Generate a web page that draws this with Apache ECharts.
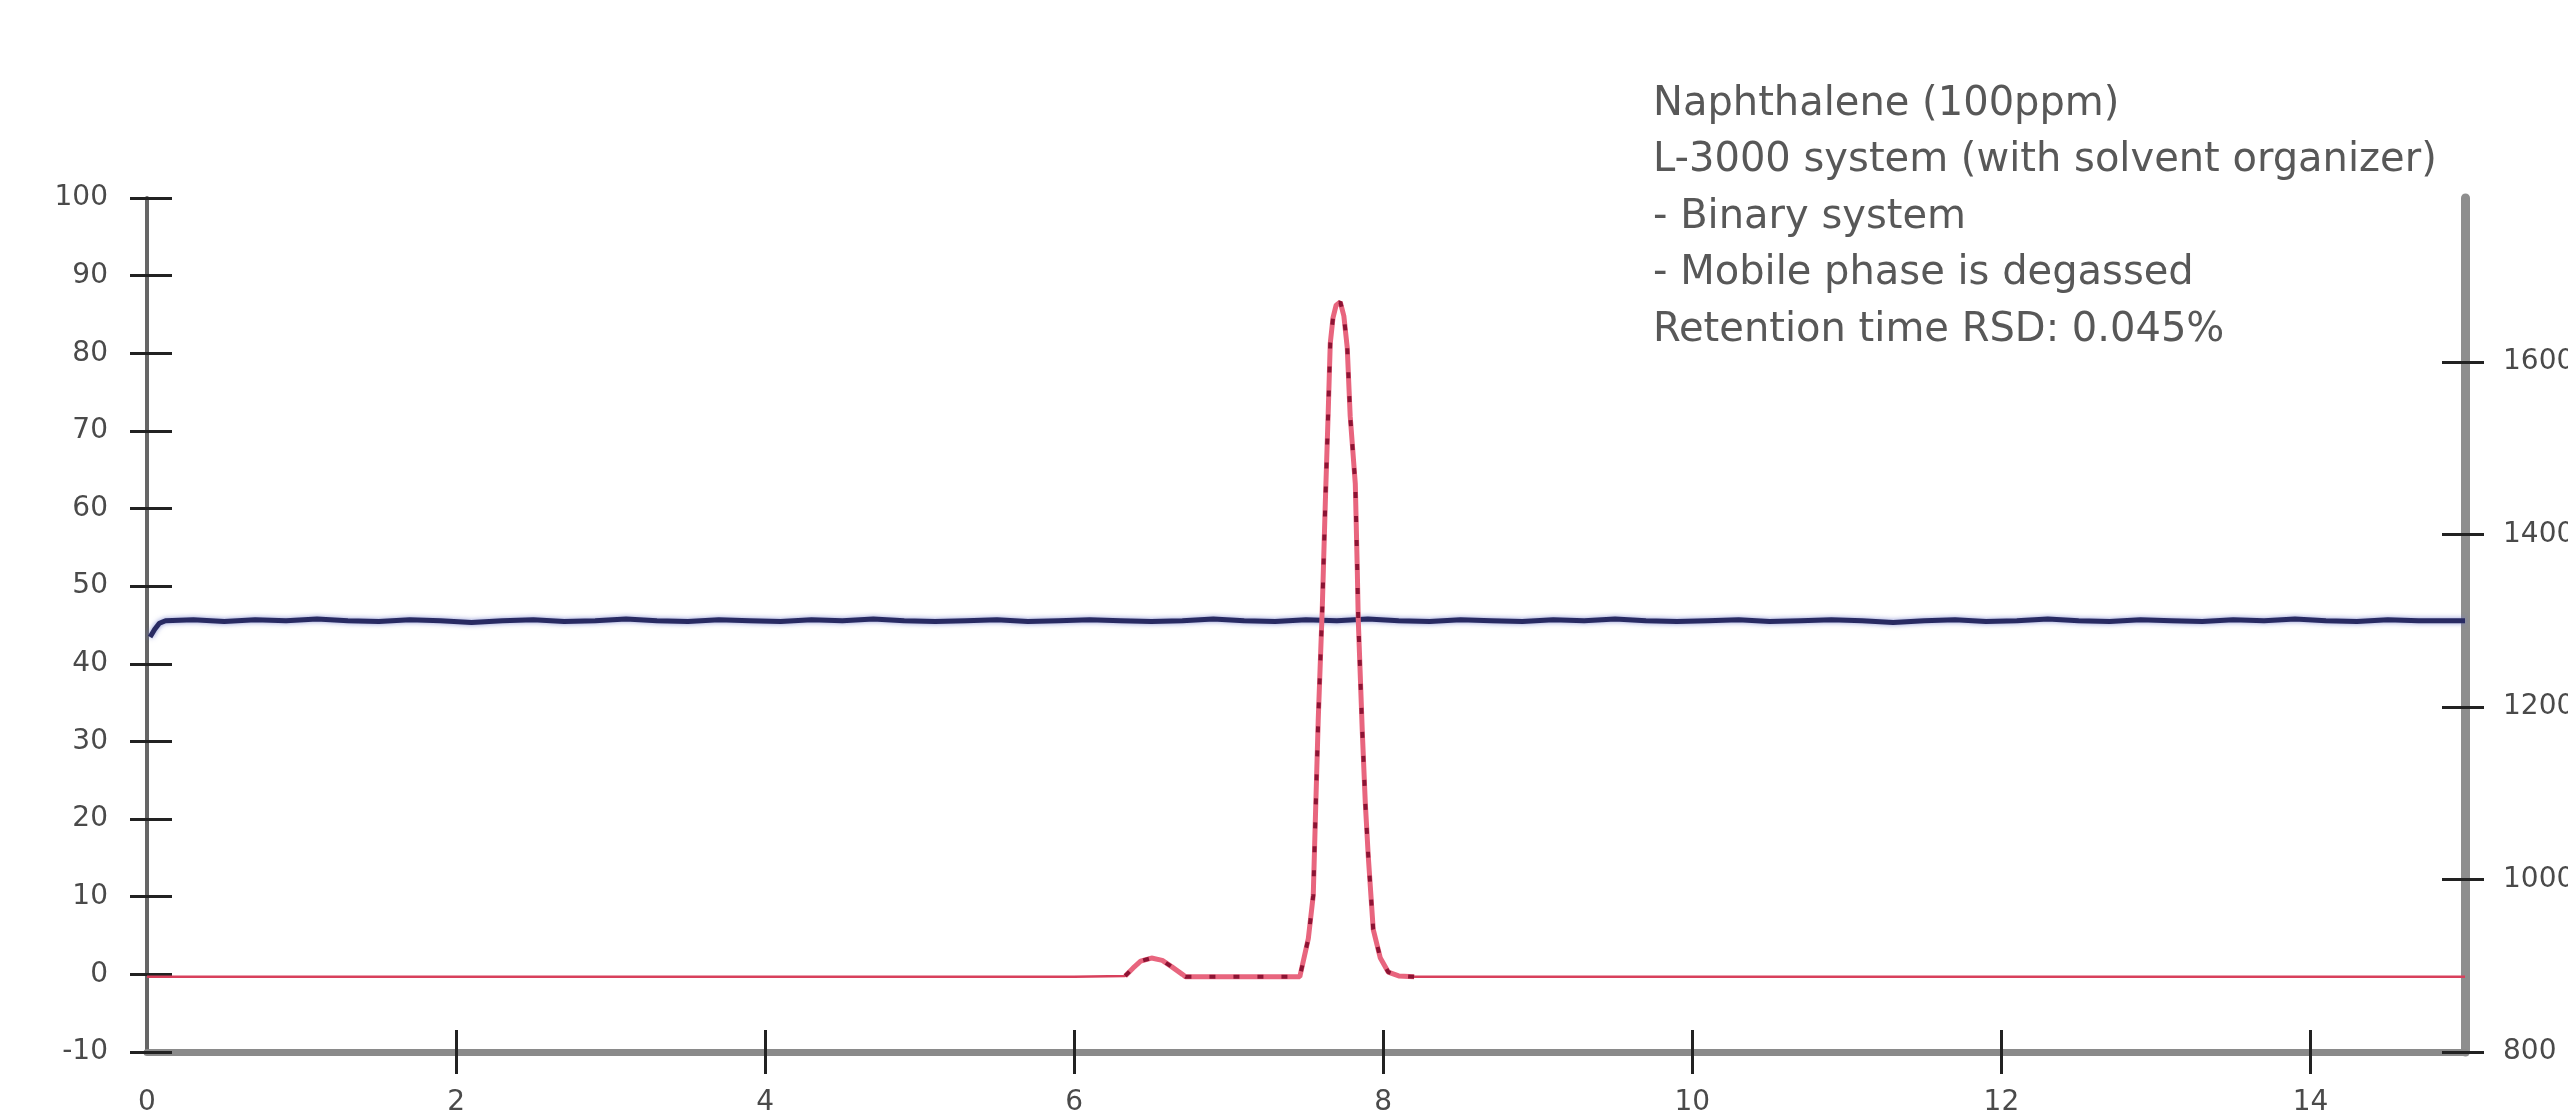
<!DOCTYPE html>
<html>
<head>
<meta charset="utf-8">
<script src="https://cdn.jsdelivr.net/npm/echarts@6/dist/echarts.min.js"></script>
<style>
html,body{margin:0;padding:0;background:#ffffff;}
#chart{width:2568px;height:1118px;}
</style>
</head>
<body>
<div id="chart"></div>
<script>
// ---- data ----
const timeTicks = [0, 2, 4, 6, 8, 10, 12, 14];
const leftTicks = [-10, 0, 10, 20, 30, 40, 50, 60, 70, 80, 90, 100];
const rightTicks = [800, 1000, 1200, 1400, 1600];

// detector signal [time (min), response] on left axis
const detectorSignal = [
  [0, -0.3], [2, -0.3], [4, -0.3], [6.0, -0.3],
  [6.33, -0.2], [6.38, 0.8], [6.43, 1.7], [6.50, 2.1], [6.57, 1.8], [6.63, 1.0], [6.70, 0.0], [6.72, -0.3],
  [7.46, -0.3], [7.515, 4.6], [7.547, 10.2], [7.56, 19.6], [7.579, 32.7], [7.605, 47.0], [7.625, 60.8],
  [7.644, 72.6], [7.657, 81.3], [7.675, 84.6], [7.695, 86.2], [7.722, 86.6], [7.745, 84.8], [7.767, 80.7],
  [7.786, 71.9], [7.819, 63.2], [7.832, 52.0], [7.838, 45.8], [7.864, 31.4], [7.884, 22.0], [7.903, 15.2],
  [7.935, 5.8], [7.981, 2.1], [8.032, 0.3], [8.10, -0.2], [8.20, -0.3], [10, -0.3], [12, -0.3], [15, -0.3]
];

// pump pressure [time (min), pressure] on right axis
const pumpPressure = [
  [0.02, 1281], [0.05, 1290], [0.08, 1297], [0.12, 1300], [0.3, 1301], [0.5, 1299], [0.7, 1301], [0.9, 1300],
  [1.1, 1302], [1.3, 1300], [1.5, 1299], [1.7, 1301], [1.9, 1300], [2.1, 1298], [2.3, 1300], [2.5, 1301],
  [2.7, 1299], [2.9, 1300], [3.1, 1302], [3.3, 1300], [3.5, 1299], [3.7, 1301], [3.9, 1300], [4.1, 1299],
  [4.3, 1301], [4.5, 1300], [4.7, 1302], [4.9, 1300], [5.1, 1299], [5.3, 1300], [5.5, 1301], [5.7, 1299],
  [5.9, 1300], [6.1, 1301], [6.3, 1300], [6.5, 1299], [6.7, 1300], [6.9, 1302], [7.1, 1300], [7.3, 1299],
  [7.5, 1301], [7.7, 1300], [7.9, 1302], [8.1, 1300], [8.3, 1299], [8.5, 1301], [8.7, 1300], [8.9, 1299],
  [9.1, 1301], [9.3, 1300], [9.5, 1302], [9.7, 1300], [9.9, 1299], [10.1, 1300], [10.3, 1301], [10.5, 1299],
  [10.7, 1300], [10.9, 1301], [11.1, 1300], [11.3, 1298], [11.5, 1300], [11.7, 1301], [11.9, 1299], [12.1, 1300],
  [12.3, 1302], [12.5, 1300], [12.7, 1299], [12.9, 1301], [13.1, 1300], [13.3, 1299], [13.5, 1301], [13.7, 1300],
  [13.9, 1302], [14.1, 1300], [14.3, 1299], [14.5, 1301], [14.7, 1300], [15, 1300]
];

const annotationLines = [
  'Naphthalene (100ppm)',
  'L-3000 system (with solvent organizer)',
  '- Binary system',
  '- Mobile phase is degassed',
  'Retention time RSD: 0.045%'
];

const peakWindows = [[6.30, 6.75], [7.45, 8.25]];

// ---- chart ----
const FONT = 'DejaVu Sans';
const labelStyle = { fontFamily: FONT, fontSize: 28, color: '#4a4a4a', formatter: v => String(v) };
const tickLine = { color: '#222222', width: 3 };

const peakOverlay = detectorSignal.map(p =>
  peakWindows.some(w => p[0] >= w[0] && p[0] <= w[1]) ? p : [p[0], null]
);

const chart = echarts.init(document.getElementById('chart'), null, { renderer: 'canvas' });
chart.setOption({
  animation: false,
  backgroundColor: '#ffffff',
  grid: { left: 147, right: 103, top: 198, bottom: 66, containLabel: false, outerBoundsMode: 'none' },
  xAxis: [
    {
      type: 'value', min: 0, max: 15, position: 'bottom',
      axisLine: { show: true, onZero: false, lineStyle: { color: '#8a8a8a', width: 7 } },
      axisTick: { show: true, inside: false, length: 22, customValues: timeTicks.filter(v => v > 0), lineStyle: tickLine },
      axisLabel: Object.assign({ margin: 37, customValues: timeTicks }, labelStyle),
      splitLine: { show: false }
    },
    {
      type: 'value', min: 0, max: 15, position: 'bottom',
      axisLine: { show: false, onZero: false },
      axisTick: { show: true, inside: true, length: 22, customValues: timeTicks.filter(v => v > 0), lineStyle: tickLine },
      axisLabel: { show: false },
      splitLine: { show: false }
    }
  ],
  yAxis: [
    {
      type: 'value', min: -10, max: 100, interval: 10, position: 'left',
      axisLine: { show: true, onZero: false, lineStyle: { color: '#666666', width: 4 } },
      axisTick: { show: true, inside: false, length: 17, customValues: leftTicks, lineStyle: tickLine },
      axisLabel: Object.assign({ margin: 39, customValues: leftTicks }, labelStyle),
      splitLine: { show: false }
    },
    {
      type: 'value', min: 800, max: 1790, position: 'right',
      axisLine: { show: true, onZero: false, lineStyle: { color: '#8e8e8e', width: 9 } },
      axisTick: { show: true, inside: false, length: 19, customValues: rightTicks, lineStyle: tickLine },
      axisLabel: Object.assign({ margin: 38, customValues: rightTicks }, labelStyle),
      splitLine: { show: false }
    },
    {
      type: 'value', min: -10, max: 100, interval: 10, position: 'left',
      axisLine: { show: false, onZero: false },
      axisTick: { show: true, inside: true, length: 25, customValues: leftTicks, lineStyle: tickLine },
      axisLabel: { show: false },
      splitLine: { show: false }
    },
    {
      type: 'value', min: 800, max: 1790, position: 'right',
      axisLine: { show: false, onZero: false },
      axisTick: { show: true, inside: true, length: 23, customValues: rightTicks, lineStyle: tickLine },
      axisLabel: { show: false },
      splitLine: { show: false }
    }
  ],
  series: [
    {
      name: 'Pressure', type: 'line', xAxisIndex: 0, yAxisIndex: 1,
      data: pumpPressure, showSymbol: false, symbol: 'none', z: 2,
      lineStyle: { color: '#282a62', width: 5, shadowColor: 'rgba(110,120,200,0.8)', shadowBlur: 5 }
    },
    {
      name: 'Detector', type: 'line', xAxisIndex: 0, yAxisIndex: 0,
      data: detectorSignal, showSymbol: false, symbol: 'none', z: 3,
      lineStyle: { color: '#d8405c', width: 2.5 }
    },
    {
      name: 'Detector peak trace', type: 'line', xAxisIndex: 0, yAxisIndex: 0,
      data: peakOverlay, showSymbol: false, symbol: 'none', z: 4, connectNulls: false,
      lineStyle: { color: '#e8657e', width: 5 }
    },
    {
      name: 'Detector peak marks', type: 'line', xAxisIndex: 0, yAxisIndex: 0,
      data: peakOverlay, showSymbol: false, symbol: 'none', z: 5, connectNulls: false,
      lineStyle: { color: '#8c1434', width: 4, type: [6, 18] }
    }
  ],
  graphic: [
    {
      type: 'text', left: 1653, top: 76, z: 10,
      style: {
        text: annotationLines.join('\n'),
        font: '40px "DejaVu Sans"',
        fill: '#585858',
        lineHeight: 56.5
      }
    }
  ]
});
</script>
</body>
</html>
